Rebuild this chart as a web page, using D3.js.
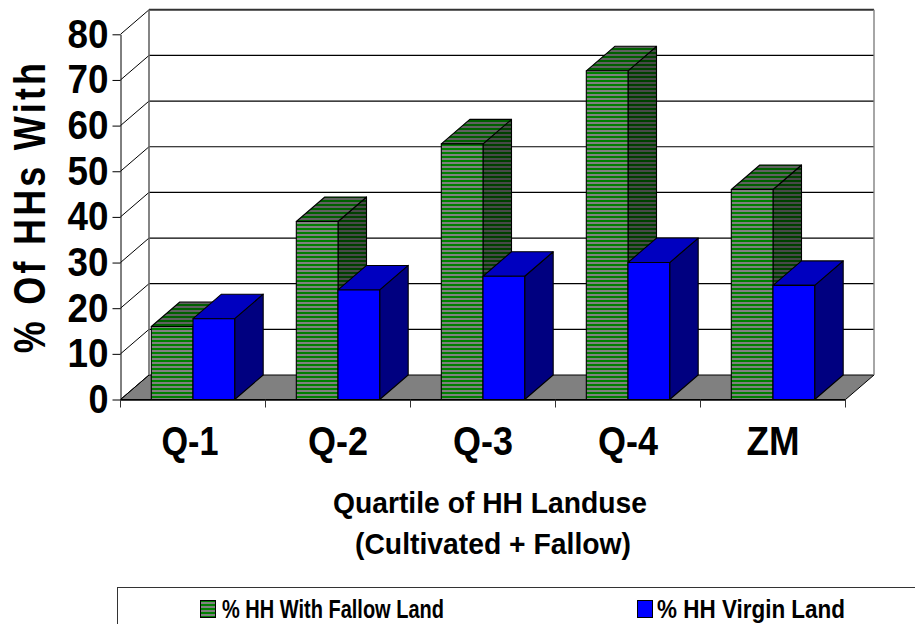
<!DOCTYPE html>
<html>
<head>
<meta charset="utf-8">
<script src="https://cdn.jsdelivr.net/npm/d3@7"></script>
<style>
html, body { margin: 0; background: #fff; }
svg { display: block; }
text { font-family: "Liberation Sans", Arial, sans-serif; font-weight: bold; fill: #000; }
</style>
</head>
<body>
<div id="chart"></div>
<script>
// values
var categories = ["Q-1", "Q-2", "Q-3", "Q-4", "ZM"];
var seriesNames = ["% HH With Fallow Land", "% HH Virgin Land"];
var fallow = [16, 39, 56, 72, 46];
var virgin = [17.7, 24, 27, 30, 25];
var yTicks = [0, 10, 20, 30, 40, 50, 60, 70, 80];

var width = 915, height = 624;
// offset of the back wall from the front plane
var depthX = 28.5, depthY = 24.5;

var svg = d3.select("#chart").append("svg")
    .attr("width", width)
    .attr("height", height);

// stripe patterns for the green bars: front, top and side
var defs = svg.append("defs");
function stripes(id, green, gray) {
    var p = defs.append("pattern")
        .attr("id", id)
        .attr("patternUnits", "userSpaceOnUse")
        .attr("width", 4)
        .attr("height", 4);
    p.append("rect").attr("width", 4).attr("height", 4).attr("fill", gray);
    p.append("rect").attr("width", 4).attr("height", 2).attr("fill", green);
}
stripes("stripeFront", "#008000", "#808080");
stripes("stripeTop", "#006000", "#606060");
stripes("stripeSide", "#004000", "#484848");

var x = d3.scaleBand()
    .domain(categories)
    .range([120.5, 845.5])
    .paddingInner(0.425)
    .paddingOuter(0.2125);

var inner = d3.scaleBand()
    .domain([0, 1])
    .range([0, x.bandwidth()]);

var y = d3.scaleLinear()
    .domain([0, 80])
    .range([399.5, 34.3]);

var x0 = x.range()[0], x1 = x.range()[1];

// floor
svg.append("polygon")
    .attr("points", [[x0, y(0)], [x1, y(0)], [x1 + depthX, y(0) - depthY], [x0 + depthX, y(0) - depthY]].join(" "))
    .attr("fill", "#808080")
    .attr("stroke", "#000")
    .attr("stroke-width", 1);

// gridlines on the back wall and the side wall
yTicks.forEach(function(t) {
    if (t > 0) {
        svg.append("line")
            .attr("x1", x0 + depthX).attr("x2", x1 + depthX)
            .attr("y1", y(t) - depthY).attr("y2", y(t) - depthY)
            .attr("stroke", t === 80 ? "#333" : "#000")
            .attr("stroke-width", t === 80 ? 2 : 1.2);
    }
    svg.append("line")
        .attr("x1", x0).attr("x2", x0 + depthX)
        .attr("y1", y(t)).attr("y2", y(t) - depthY)
        .attr("stroke", "#000").attr("stroke-width", 1);
});

// back wall edges
svg.append("line")
    .attr("x1", x0 + depthX).attr("x2", x0 + depthX)
    .attr("y1", y(80) - depthY).attr("y2", y(0) - depthY)
    .attr("stroke", "#666").attr("stroke-width", 1.6);
svg.append("line")
    .attr("x1", x1 + depthX).attr("x2", x1 + depthX)
    .attr("y1", y(80) - depthY).attr("y2", y(0) - depthY)
    .attr("stroke", "#808080").attr("stroke-width", 1.4);

// one 3d bar: side, top, then front
function bar(g, left, value, front, top, side) {
    var w = inner.bandwidth();
    var t = y(value), b = y(0);
    g.append("polygon")
        .attr("points", [[left + w, t], [left + w + depthX, t - depthY], [left + w + depthX, b - depthY], [left + w, b]].join(" "))
        .attr("fill", side);
    g.append("polygon")
        .attr("points", [[left, t], [left + depthX, t - depthY], [left + w + depthX, t - depthY], [left + w, t]].join(" "))
        .attr("fill", top);
    g.append("rect")
        .attr("x", left).attr("y", t)
        .attr("width", w).attr("height", b - t)
        .attr("fill", front);
}

categories.forEach(function(c, i) {
    var g = svg.append("g")
        .attr("stroke", "#000")
        .attr("stroke-width", 1.1)
        .attr("stroke-linejoin", "round");
    bar(g, x(c) + inner(0), fallow[i], "url(#stripeFront)", "url(#stripeTop)", "url(#stripeSide)");
    bar(g, x(c) + inner(1), virgin[i], "#0000ff", "#0000c0", "#000080");
});

// value axis
var yAxis = svg.append("g")
    .attr("transform", "translate(" + x0 + ",0)")
    .call(d3.axisLeft(y).tickValues(yTicks).tickSize(8).tickPadding(4).tickSizeOuter(0));
yAxis.selectAll("text")
    .attr("font-size", 40)
    .attr("textLength", function(d) { return d === 0 ? 20 : 41; })
    .attr("lengthAdjust", "spacingAndGlyphs")
    .style("font-family", "'Liberation Sans', Arial, sans-serif")
    .style("font-weight", "bold");
yAxis.selectAll("line, path").attr("stroke", "#000");

// category axis
var xAxis = svg.append("g")
    .attr("transform", "translate(0," + y(0) + ")")
    .call(d3.axisBottom(x).tickSize(0).tickPadding(27).tickSizeOuter(0));
xAxis.select("path").attr("stroke", "#000").attr("stroke-width", 1.3);
xAxis.selectAll("text")
    .attr("font-size", 40)
    .attr("dx", function(d) { return d === "Q-1" ? -3 : 0; })
    .attr("textLength", function(d) { return d === "ZM" ? 53 : d === "Q-1" ? 57 : 60; })
    .attr("lengthAdjust", "spacingAndGlyphs")
    .style("font-family", "'Liberation Sans', Arial, sans-serif")
    .style("font-weight", "bold");

// category separators
var boundaries = categories.map(function(c) { return x(c) - x.step() * x.paddingInner() / 2; }).concat([x1]);
svg.selectAll(".sep")
    .data(boundaries)
    .enter().append("line")
    .attr("class", "sep")
    .attr("x1", function(d) { return d; }).attr("x2", function(d) { return d; })
    .attr("y1", y(0)).attr("y2", y(0) + 8)
    .attr("stroke", "#333").attr("stroke-width", 1);

// axis titles (squeezed glyphs, wide letter gaps)
svg.append("text")
    .attr("transform", "translate(45,208) rotate(-90) scale(0.82,1)")
    .attr("text-anchor", "middle")
    .attr("font-size", 44)
    .attr("textLength", 354)
    .attr("lengthAdjust", "spacing")
    .text("% Of HHs With");
svg.append("text")
    .attr("x", 490).attr("y", 513)
    .attr("text-anchor", "middle")
    .attr("font-size", 30)
    .attr("textLength", 314)
    .attr("lengthAdjust", "spacingAndGlyphs")
    .text("Quartile of HH Landuse");
svg.append("text")
    .attr("x", 493).attr("y", 554)
    .attr("text-anchor", "middle")
    .attr("font-size", 30)
    .attr("textLength", 276)
    .attr("lengthAdjust", "spacingAndGlyphs")
    .text("(Cultivated + Fallow)");

// legend box runs off the right and bottom of the picture
svg.append("rect")
    .attr("x", 117.5).attr("y", 587.5)
    .attr("width", 820).attr("height", 60)
    .attr("fill", "none")
    .attr("stroke", "#333");
var legendX = [200.5, 637.5], legendTextX = [222, 657];
var legendW = [222, 188];
seriesNames.forEach(function(name, i) {
    svg.append("rect")
        .attr("x", legendX[i]).attr("y", 600.5)
        .attr("width", 15).attr("height", 17)
        .attr("fill", i === 0 ? "url(#stripeFront)" : "#0000ff")
        .attr("stroke", "#000");
    svg.append("text")
        .attr("x", legendTextX[i]).attr("y", 618)
        .attr("font-size", 25)
        .attr("textLength", legendW[i])
        .attr("lengthAdjust", "spacingAndGlyphs")
        .text(name);
});
</script>
</body>
</html>
